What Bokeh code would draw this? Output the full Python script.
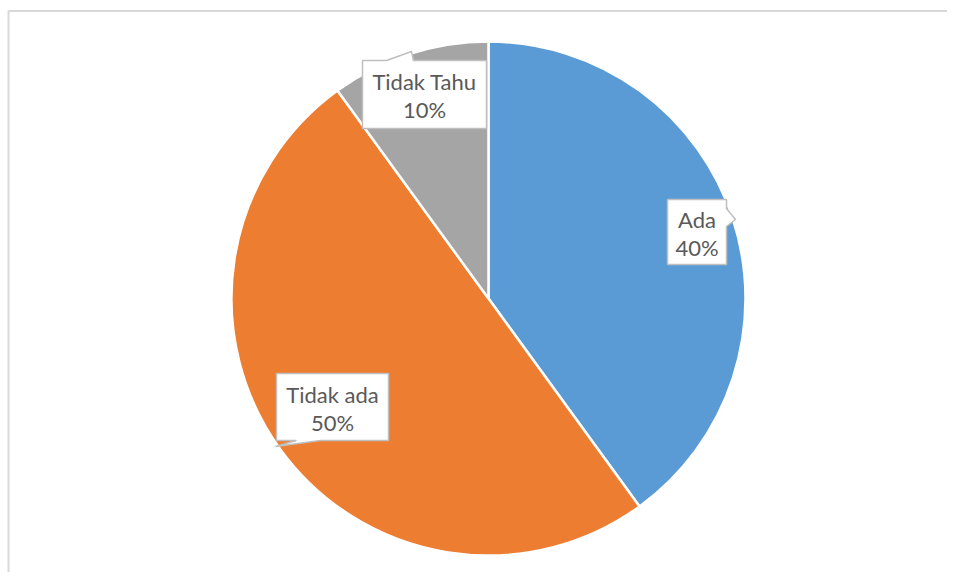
import numpy as np
from bokeh.plotting import figure
from bokeh.models import Range1d, ColumnDataSource
from bokeh.core.properties import value
from bokeh.embed import file_html
from bokeh.resources import INLINE

# ---- data ----
categories = ["Ada", "Tidak ada", "Tidak Tahu"]
percentages = [40, 50, 10]
colors = ["#5B9BD5", "#ED7D31", "#A5A5A5"]

# ---- layout (picture pixel coordinates) ----
W, H = 947, 572
OFF = 0
def fx(px):
    return px - OFF
def fy(py):
    return (H + OFF) - py

cx_page, cy_page, R = 488, 298, 257

p = figure(width=W, height=H, output_backend="svg", toolbar_location=None,
           x_range=Range1d(0, W), y_range=Range1d(0, H),
           min_border=0, outline_line_color=None)
p.axis.visible = False
p.grid.visible = False
p.background_fill_color = "white"
p.border_fill_color = "white"

# chart frame
p.line(x=[fx(8), fx(8), fx(960)], y=[fy(590), fy(10.5), fy(10.5)],
       line_color="#D9D9D9", line_width=2)

# pie
vals = np.array(percentages, dtype=float)
frac = vals / vals.sum()
cum_end = np.cumsum(frac)
cum_start = cum_end - frac
start = np.pi / 2 - 2 * np.pi * cum_start
end = np.pi / 2 - 2 * np.pi * cum_end
src = ColumnDataSource(dict(cat=categories, start=start, end=end, color=colors))
p.wedge(x=fx(cx_page), y=fy(cy_page), radius=R, start_angle="start", end_angle="end",
        direction="clock", fill_color="color", line_color="white", line_width=2.5,
        source=src)

# callout boxes (picture coordinates of box: left, top, right, bottom) and pointer
boxes = {
    "Ada": dict(l=667, t=199, r=726, b=264, ptr=[(726, 208), (735, 219), (726, 226)], side="right"),
    "Tidak Tahu": dict(l=362, t=60, r=486, b=128, ptr=[(386, 60), (411, 51), (413, 60)], side="top"),
    "Tidak ada": dict(l=276, t=373, r=388, b=440, ptr=[(320, 440), (275, 446), (296, 440)], side="bottom"),
}

def box_poly(b):
    l, t, r, bt = b["l"], b["t"], b["r"], b["b"]
    if b["side"] == "top":
        pts = [(l, t)] + b["ptr"] + [(r, t), (r, bt), (l, bt)]
    elif b["side"] == "right":
        pts = [(l, t), (r, t)] + b["ptr"] + [(r, bt), (l, bt)]
    else:
        pts = [(l, t), (r, t), (r, bt)] + b["ptr"] + [(l, bt)]
    return [fx(x) for x, _ in pts], [fy(y) for _, y in pts]

xs, ys = [], []
for cat in categories:
    x, y = box_poly(boxes[cat])
    xs.append(x)
    ys.append(y)
p.patches(xs=xs, ys=ys, fill_color="white", line_color="#BFBFBF", line_width=1.5)

# texts
tx = [fx((boxes[c]["l"] + boxes[c]["r"]) / 2) for c in categories]
ty1 = [fy((boxes[c]["t"] + boxes[c]["b"]) / 2 - 13) for c in categories]
ty2 = [fy((boxes[c]["t"] + boxes[c]["b"]) / 2 + 15) for c in categories]
pct = [f"{v}%" for v in percentages]
p.text(x=tx, y=ty1, text=categories, text_align="center", text_baseline="middle",
       text_font=value("Lato"), text_font_size="22px", text_color="#595959")
p.text(x=tx, y=ty2, text=pct, text_align="center", text_baseline="middle",
       text_font=value("Lato"), text_font_size="22px", text_color="#595959")

open("out.html", "w").write(file_html(p, INLINE))
